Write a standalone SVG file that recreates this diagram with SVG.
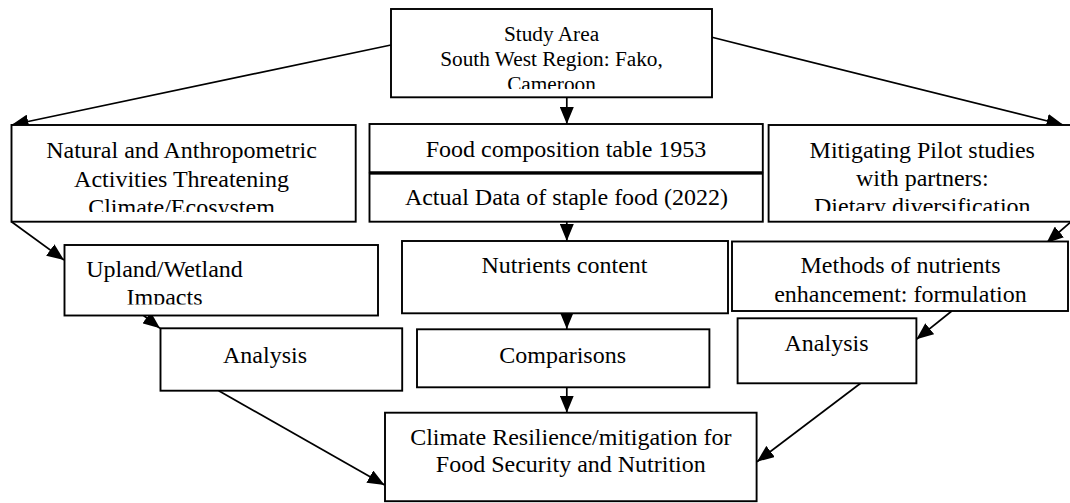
<svg xmlns="http://www.w3.org/2000/svg" width="1070" height="503" viewBox="0 0 1070 503">
<style>
  .box { fill: #fff; stroke: #000; stroke-width: 1.9; }
  .t { font-family: "Liberation Serif", "Times New Roman", serif; font-size: 24px; fill: #000; text-anchor: middle; }
  .ts { font-size: 21.3px; }
  .c { stroke: #000; stroke-width: 1.7; fill: none; marker-end: url(#ah); }
</style>
<defs>
  <marker id="ah" markerUnits="userSpaceOnUse" markerWidth="18" markerHeight="14" refX="17" refY="7" orient="auto">
    <path d="M0,0 L17,7 L0,14 Z" fill="#000"/>
  </marker>
  <clipPath id="clipStudy"><rect x="391" y="9" width="321" height="80"/></clipPath>
  <clipPath id="clipNat"><rect x="11" y="125" width="345" height="87"/></clipPath>
  <clipPath id="clipMit"><rect x="768" y="125" width="310" height="86"/></clipPath>
  <clipPath id="clipUp"><rect x="64" y="245" width="314" height="59.5"/></clipPath>
</defs>

<g id="connectors">
  <line class="c" x1="391" y1="45" x2="11.5" y2="125"/>
  <line class="c" x1="566.8" y1="97.3" x2="566.8" y2="124"/>
  <line class="c" x1="712" y1="37.3" x2="1063.5" y2="125"/>
  <line class="c" x1="11.5" y1="221.7" x2="64" y2="260"/>
  <line class="c" x1="566.8" y1="221.7" x2="566.8" y2="241"/>
  <line class="c" x1="1080" y1="214" x2="1046.5" y2="243"/>
  <line class="c" x1="143" y1="315" x2="160" y2="328.3"/>
  <line class="c" x1="566.8" y1="313.3" x2="566.8" y2="329"/>
  <line class="c" x1="951.8" y1="311" x2="916.4" y2="339.3"/>
  <line class="c" x1="218.7" y1="390.7" x2="384.6" y2="485"/>
  <line class="c" x1="566.8" y1="387.3" x2="566.8" y2="412.7"/>
  <line class="c" x1="860.6" y1="383.3" x2="757" y2="461.7"/>
</g>

<g id="study-area">
  <rect class="box" x="391" y="9" width="321" height="88.3"/>
  <g clip-path="url(#clipStudy)">
    <text class="t ts" x="551.5" y="41">Study Area</text>
    <text class="t ts" x="551.5" y="65.5">South West Region: Fako,</text>
    <text class="t ts" x="551.5" y="91">Cameroon</text>
  </g>
</g>

<g id="natural-activities">
  <rect class="box" x="11.5" y="125" width="344.2" height="96.7"/>
  <g clip-path="url(#clipNat)">
    <text class="t" x="181.5" y="158.3">Natural and Anthropometric</text>
    <text class="t" x="181.5" y="186.7">Activities Threatening</text>
    <text class="t" x="181.5" y="215">Climate/Ecosystem</text>
  </g>
</g>

<g id="food-composition">
  <rect class="box" x="369.5" y="124" width="393.3" height="48.2"/>
  <text class="t" x="566" y="156.7">Food composition table 1953</text>
</g>

<g id="actual-data">
  <rect class="box" x="369.5" y="173.7" width="393.3" height="48"/>
  <text class="t" x="566.5" y="205">Actual Data of staple food (2022)</text>
</g>

<g id="mitigating-pilot">
  <rect class="box" x="768.6" y="125" width="310" height="96.7"/>
  <g clip-path="url(#clipMit)">
    <text class="t" x="922.3" y="157.5">Mitigating Pilot studies</text>
    <text class="t" x="922.3" y="185.5">with partners:</text>
    <text class="t" x="922.3" y="213.5">Dietary diversification</text>
  </g>
</g>

<g id="upland-wetland">
  <rect class="box" x="64.5" y="245" width="313.5" height="70.5"/>
  <g clip-path="url(#clipUp)">
    <text class="t" x="164.5" y="277">Upland/Wetland</text>
    <text class="t" x="164.5" y="305.3">Impacts</text>
  </g>
</g>

<g id="nutrients-content">
  <rect class="box" x="402" y="241" width="326" height="72.3"/>
  <text class="t" x="564.5" y="273.3">Nutrients content</text>
</g>

<g id="methods-enhancement">
  <rect class="box" x="732" y="241.5" width="336" height="69.5"/>
  <text class="t" x="900.5" y="273.3">Methods of nutrients</text>
  <text class="t" x="900.5" y="301.7">enhancement: formulation</text>
</g>

<g id="analysis-left">
  <rect class="box" x="160.5" y="328.3" width="241.7" height="62.4"/>
  <text class="t" x="265" y="362.7">Analysis</text>
</g>

<g id="comparisons">
  <rect class="box" x="417" y="329.3" width="292.4" height="58"/>
  <text class="t" x="562.7" y="362.7">Comparisons</text>
</g>

<g id="analysis-right">
  <rect class="box" x="737.6" y="318.3" width="178.8" height="65"/>
  <text class="t" x="826.5" y="350.7">Analysis</text>
</g>

<g id="climate-resilience">
  <rect class="box" x="385" y="412.7" width="371.6" height="88.5"/>
  <text class="t" x="570.8" y="445">Climate Resilience/mitigation for</text>
  <text class="t" x="570.8" y="471.7">Food Security and Nutrition</text>
</g>
</svg>
